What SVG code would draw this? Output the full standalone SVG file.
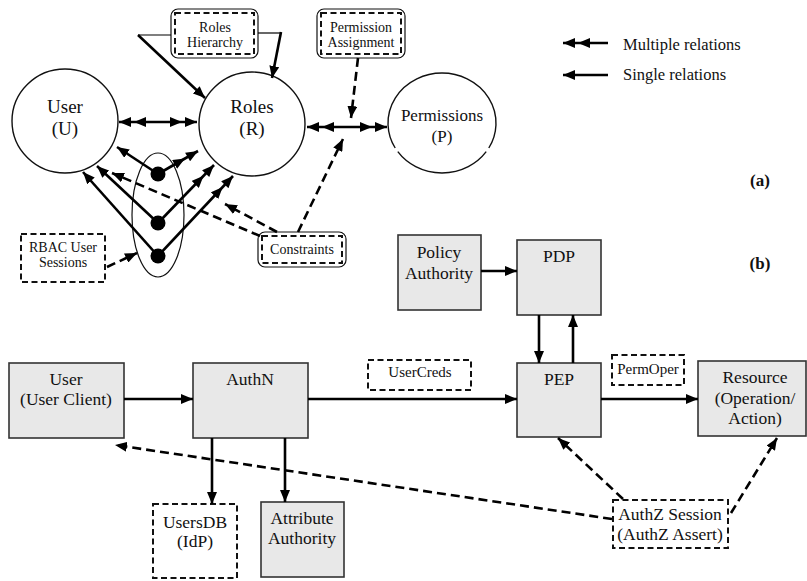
<svg xmlns="http://www.w3.org/2000/svg" width="807" height="581" viewBox="0 0 807 581">
<defs>
<style>
text{font-family:"Liberation Serif",Tinos,"Times New Roman","DejaVu Serif",serif;fill:#111;text-anchor:middle}
.c{font-size:19px}.cp{font-size:17px}.s{font-size:14px}.b{font-size:17.5px}.m{font-size:15px}.lg{font-size:16.5px;text-anchor:start}
.ab{font-size:17px;font-weight:bold}
.circ{fill:#fff;stroke:#111;stroke-width:1.4}
.box{fill:#e8e8e8;stroke:#333;stroke-width:1.6}
.dbox{fill:#fff;stroke:#111;stroke-width:2;stroke-dasharray:6,3.5}
.rbox{fill:#fff;stroke:#111;stroke-width:1.2}
.ln{fill:none;stroke:#000;stroke-width:2.6}
.thin{fill:none;stroke:#000;stroke-width:1.2}
.dl{fill:none;stroke:#000;stroke-width:2.6;stroke-dasharray:9,5}
.a{marker-end:url(#ah)}
.aa{marker-end:url(#aah)}
.aa2{marker-start:url(#aah);marker-end:url(#aah)}
</style>
<marker id="ah" markerUnits="userSpaceOnUse" viewBox="0 0 12 10" refX="12" refY="5" markerWidth="12" markerHeight="10" orient="auto"><path d="M0,0 L12,5 L0,10 z" fill="#000"/></marker>
<marker id="aah" markerUnits="userSpaceOnUse" viewBox="0 0 27 10" refX="27" refY="5" markerWidth="27" markerHeight="10" orient="auto-start-reverse"><path d="M0,0 L12,5 L0,10 z M15,0 L27,5 L15,10 z" fill="#000"/></marker>
</defs>
<rect width="807" height="581" fill="#fff"/>

<g id="user-circle"><ellipse class="circ" cx="65" cy="121" rx="53" ry="52"/><text class="c" x="65" y="113">User</text><text class="c" x="65" y="135">(U)</text></g>
<g id="roles-circle"><ellipse class="circ" cx="252" cy="124" rx="53" ry="52"/><text class="c" x="252" y="113">Roles</text><text class="c" x="252" y="135">(R)</text></g>
<g id="permissions-circle"><path class="circ" d="M395.2,148 A54,50 0 1 1 488.8,148 M486.2,151.7 A54,50 0 0 1 397.8,151.7"/><text class="cp" x="442" y="121">Permissions</text><text class="cp" x="442" y="142">(P)</text></g>
<g id="session-ellipse"><ellipse cx="158" cy="215" rx="26" ry="62" fill="none" stroke="#111" stroke-width="1.2"/><circle cx="158" cy="174" r="7.5"/><circle cx="158" cy="223" r="7.5"/><circle cx="158" cy="256" r="7.5"/></g>

<g id="roles-hierarchy"><rect class="rbox" x="171" y="9" width="87" height="49" rx="7"/><rect class="dbox" x="175" y="13" width="79" height="41"/><text class="s" x="215" y="32">Roles</text><text class="s" x="215" y="47">Hierarchy</text></g>
<g id="permission-assignment"><rect class="rbox" x="317" y="9" width="88" height="49" rx="7"/><rect class="dbox" x="321" y="13" width="80" height="41"/><text class="s" x="361" y="32">Permission</text><text class="s" x="361" y="47">Assignment</text></g>
<g id="constraints"><rect class="rbox" x="258" y="232" width="88" height="35" rx="7"/><rect class="dbox" x="262" y="236" width="80" height="27"/><text class="s" x="302" y="254">Constraints</text></g>
<g id="rbac-sessions"><rect class="dbox" x="21" y="234" width="84" height="48"/><text class="s" x="63" y="252">RBAC User</text><text class="s" x="63" y="267">Sessions</text></g>

<g id="legend"><line class="ln aa" x1="608" y1="43" x2="563" y2="43"/><text class="lg" x="623" y="50">Multiple relations</text><line class="ln a" x1="608" y1="75" x2="563" y2="75"/><text class="lg" x="623" y="80">Single relations</text></g>
<g id="label-a"><text class="ab" x="760" y="186">(a)</text></g>
<g id="label-b"><text class="ab" x="760" y="269">(b)</text></g>

<g id="policy-authority"><rect class="box" x="398" y="235" width="83" height="75"/><text class="b" x="439" y="258">Policy</text><text class="b" x="439" y="279">Authority</text></g>
<g id="pdp"><rect class="box" x="517" y="240" width="84" height="75"/><text class="b" x="559" y="262">PDP</text></g>
<g id="pep"><rect class="box" x="517" y="363" width="84" height="74"/><text class="b" x="559" y="385">PEP</text></g>
<g id="resource"><rect class="box" x="698" y="361" width="108" height="75"/><text class="b" x="755" y="383">Resource</text><text class="b" x="755" y="404">(Operation/</text><text class="b" x="755" y="424">Action)</text></g>
<g id="user-client"><rect class="box" x="9" y="363" width="115" height="75"/><text class="b" x="66" y="385">User</text><text class="b" x="66" y="405">(User Client)</text></g>
<g id="authn"><rect class="box" x="193" y="363" width="115" height="75"/><text class="b" x="250" y="385">AuthN</text></g>
<g id="usercreds"><rect class="dbox" x="368" y="360" width="103" height="30"/><text class="m" x="420" y="377">UserCreds</text></g>
<g id="permoper"><rect class="dbox" x="612" y="355" width="72" height="30"/><text class="m" x="648" y="374">PermOper</text></g>
<g id="usersdb"><rect class="dbox" x="153" y="504" width="84" height="74"/><text class="b" x="195" y="528">UsersDB</text><text class="b" x="195" y="547">(IdP)</text></g>
<g id="attribute-authority"><rect class="box" x="261" y="502" width="83" height="75"/><text class="b" x="302" y="524">Attribute</text><text class="b" x="302" y="544">Authority</text></g>
<g id="authz-session"><rect class="dbox" x="613" y="500" width="115" height="48"/><text class="b" x="670" y="520">AuthZ Session</text><text class="b" x="670" y="540">(AuthZ Assert)</text></g>

<g id="connectors">
<line class="ln aa2" x1="119" y1="122" x2="197" y2="122"/>
<line class="ln aa2" x1="307" y1="127" x2="387" y2="127"/>
<polyline class="thin" points="171,35 138,35"/>
<line class="ln a" x1="138" y1="35" x2="205" y2="98"/>
<polyline class="thin" points="258,33 281,33"/>
<line class="ln a" x1="281" y1="32" x2="272" y2="78"/>
<line class="dl a" x1="358" y1="58" x2="351" y2="118"/>
<line class="ln a" x1="158" y1="174" x2="117" y2="147"/>
<line class="ln aa" x1="158" y1="174" x2="198" y2="151"/>
<line class="ln a" x1="158" y1="223" x2="97" y2="166"/>
<line class="ln aa" x1="158" y1="223" x2="214" y2="165"/>
<line class="ln a" x1="158" y1="256" x2="83" y2="172"/>
<line class="ln aa" x1="158" y1="256" x2="233" y2="176"/>
<line class="dl a" x1="260" y1="236" x2="112" y2="173"/>
<line class="dl a" x1="277" y1="232" x2="225" y2="204"/>
<line class="dl a" x1="298" y1="232" x2="343" y2="139"/>
<line class="dl a" x1="107" y1="267" x2="137" y2="253"/>
<line class="ln a" x1="481" y1="271" x2="517" y2="271"/>
<line class="ln a" x1="539" y1="315" x2="539" y2="363"/>
<line class="ln a" x1="573" y1="363" x2="573" y2="315"/>
<line class="ln a" x1="124" y1="399" x2="193" y2="399"/>
<line class="ln a" x1="308" y1="399" x2="517" y2="399"/>
<line class="ln a" x1="601" y1="399" x2="698" y2="399"/>
<line class="ln a" x1="212" y1="438" x2="212" y2="504"/>
<line class="ln a" x1="285" y1="438" x2="285" y2="502"/>
<line class="dl a" x1="612" y1="519" x2="115" y2="445"/>
<line class="dl a" x1="623" y1="499" x2="558" y2="438"/>
<line class="dl a" x1="731" y1="513" x2="777" y2="438"/>
</g>
</svg>
